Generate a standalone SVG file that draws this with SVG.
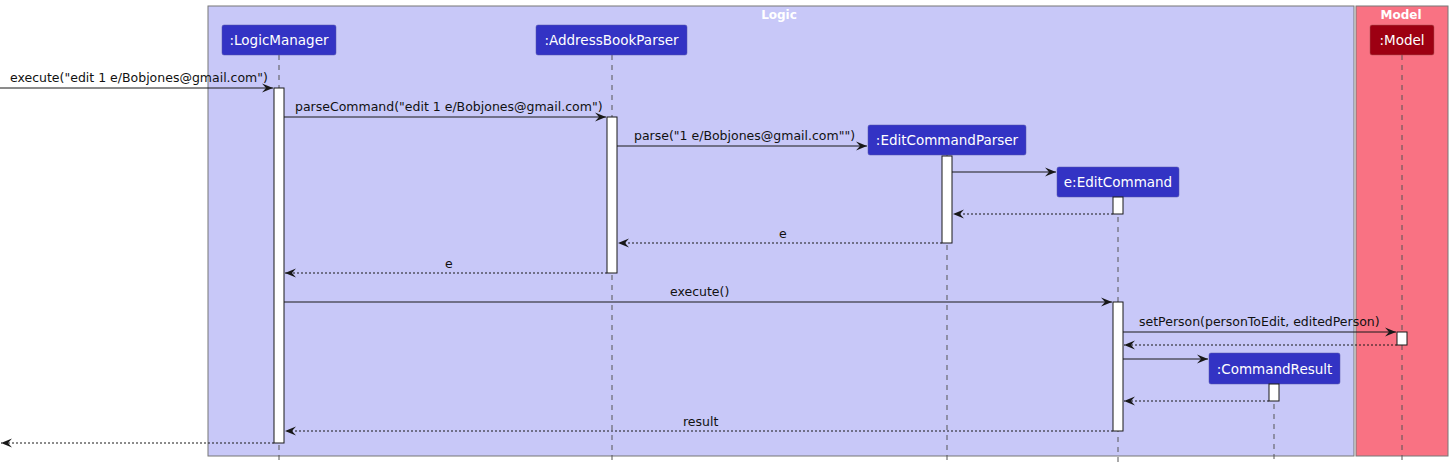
<svg xmlns="http://www.w3.org/2000/svg" width="1453" height="468" viewBox="0 0 1453 468">
<style>
.box{stroke:#777;stroke-width:1}
.ttl{font-family:"DejaVu Sans",Verdana,sans-serif;font-size:12px;font-weight:bold;fill:#fff;text-anchor:middle}
.pt{fill:#3333C4;stroke:#5555aa;stroke-width:0.5}
.pm{fill:#9D0012;stroke:#aa5555;stroke-width:0.5}
.pl{font-family:"DejaVu Sans",Verdana,sans-serif;font-size:13.5px;fill:#fff;text-anchor:middle}
.life{stroke:#555;stroke-width:1;stroke-dasharray:5,5}
.act{fill:#fff;stroke:#181818;stroke-width:1}
.msg{stroke:#181818;stroke-width:1;fill:none}
.ret{stroke:#181818;stroke-width:1;fill:none;stroke-dasharray:2,2}
.lbl{font-family:"DejaVu Sans",Verdana,sans-serif;font-size:12.5px;fill:#111}
</style>
<defs>
<marker id="ah" markerWidth="12" markerHeight="10" refX="11" refY="5" orient="auto" markerUnits="userSpaceOnUse">
<polygon points="0,0.5 11,5 0,9.5 4,5" fill="#181818"/>
</marker>
</defs>
<g id="box-logic">
<rect class="box" x="208" y="6" width="1146" height="450" fill="#C8C8F8"/>
<text class="ttl" x="779" y="19">Logic</text>
</g>
<g id="box-model">
<rect class="box" x="1356" y="6" width="92" height="450" fill="#F97283"/>
<text class="ttl" x="1401" y="19">Model</text>
</g>
<g id="lifelines">
<line class="life" x1="279" y1="55" x2="279" y2="462"/>
<line class="life" x1="612" y1="55" x2="612" y2="462"/>
<line class="life" x1="947" y1="155" x2="947" y2="462"/>
<line class="life" x1="1118" y1="197" x2="1118" y2="462"/>
<line class="life" x1="1274" y1="384" x2="1274" y2="462"/>
<line class="life" x1="1402" y1="55" x2="1402" y2="462"/>
</g>
<g id="logicmanager">
<rect class="pt" x="222" y="25" width="114" height="30" rx="2"/>
<text class="pl" x="279" y="45">:LogicManager</text>
<rect class="act" x="274" y="88" width="10" height="355"/>
</g>
<g id="addressbookparser">
<rect class="pt" x="536" y="25" width="151" height="30" rx="2"/>
<text class="pl" x="611.5" y="45">:AddressBookParser</text>
<rect class="act" x="607" y="117" width="10" height="156"/>
</g>
<g id="editcommandparser">
<rect class="pt" x="868" y="125" width="158" height="30" rx="2"/>
<text class="pl" x="947" y="145">:EditCommandParser</text>
<rect class="act" x="942" y="156" width="10" height="87"/>
</g>
<g id="editcommand">
<rect class="pt" x="1057" y="167" width="122" height="30" rx="2"/>
<text class="pl" x="1118" y="187">e:EditCommand</text>
<rect class="act" x="1113" y="197" width="10" height="17"/>
<rect class="act" x="1113" y="302" width="10" height="129"/>
</g>
<g id="commandresult">
<rect class="pt" x="1209" y="353" width="131" height="31" rx="2"/>
<text class="pl" x="1274.5" y="374">:CommandResult</text>
<rect class="act" x="1269" y="384" width="10" height="17"/>
</g>
<g id="model">
<rect class="pm" x="1370" y="25" width="64" height="30" rx="2"/>
<text class="pl" x="1402" y="45">:Model</text>
<rect class="act" x="1397" y="332" width="10" height="13"/>
</g>
<g id="connectors">
<line class="msg" x1="0" y1="88" x2="273" y2="88" marker-end="url(#ah)"/>
<text class="lbl" x="10" y="82">execute("edit 1 e/Bobjones@gmail.com")</text>
<line class="msg" x1="284" y1="117" x2="606" y2="117" marker-end="url(#ah)"/>
<text class="lbl" x="295" y="111">parseCommand("edit 1 e/Bobjones@gmail.com")</text>
<line class="msg" x1="617" y1="146" x2="867" y2="146" marker-end="url(#ah)"/>
<text class="lbl" x="634" y="140">parse("1 e/Bobjones@gmail.com"")</text>
<line class="msg" x1="952" y1="172" x2="1056" y2="172" marker-end="url(#ah)"/>
<line class="ret" x1="1113" y1="214" x2="953" y2="214" marker-end="url(#ah)"/>
<line class="ret" x1="942" y1="243" x2="618" y2="243" marker-end="url(#ah)"/>
<text class="lbl" x="779" y="238">e</text>
<line class="ret" x1="607" y1="273" x2="285" y2="273" marker-end="url(#ah)"/>
<text class="lbl" x="445" y="268">e</text>
<line class="msg" x1="284" y1="302" x2="1112" y2="302" marker-end="url(#ah)"/>
<text class="lbl" x="670" y="296">execute()</text>
<line class="msg" x1="1123" y1="332" x2="1396" y2="332" marker-end="url(#ah)"/>
<text class="lbl" x="1139" y="326">setPerson(personToEdit, editedPerson)</text>
<line class="ret" x1="1397" y1="345" x2="1124" y2="345" marker-end="url(#ah)"/>
<line class="msg" x1="1123" y1="359" x2="1208" y2="359" marker-end="url(#ah)"/>
<line class="ret" x1="1269" y1="401" x2="1124" y2="401" marker-end="url(#ah)"/>
<line class="ret" x1="1113" y1="431" x2="285" y2="431" marker-end="url(#ah)"/>
<text class="lbl" x="683" y="426">result</text>
<line class="ret" x1="274" y1="443" x2="1" y2="443" marker-end="url(#ah)"/>
</g>
</svg>
